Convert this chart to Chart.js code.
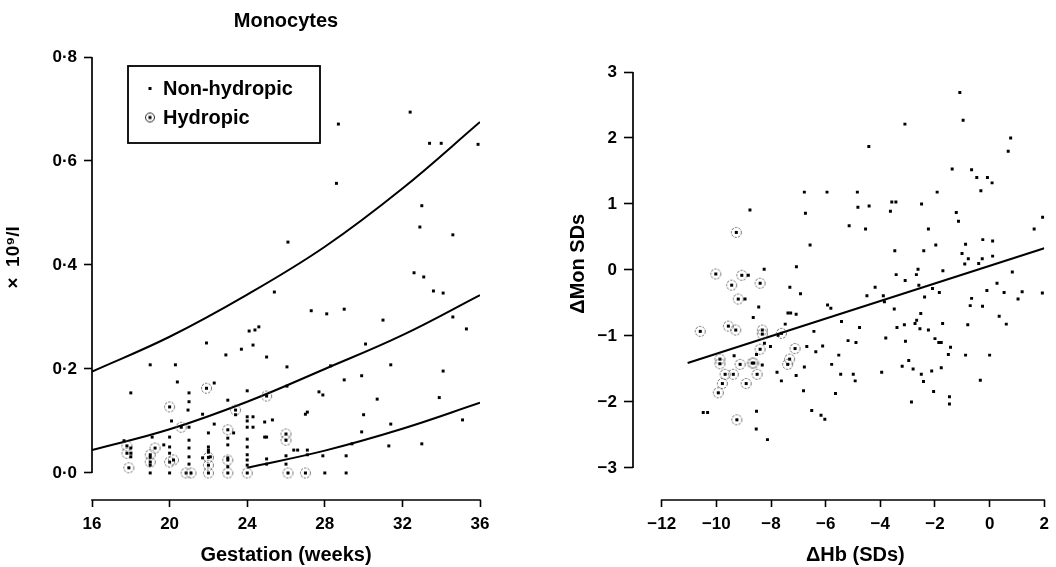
<!DOCTYPE html>
<html>
<head>
<meta charset="utf-8">
<script src="https://cdn.jsdelivr.net/npm/chart.js@4"></script>
<style>
  html, body { margin: 0; padding: 0; background: #fff; }
  #wrap { position: relative; width: 1056px; height: 567px; }
  .panel { position: absolute; top: 0; width: 528px; height: 567px; }
  #leftPanel { left: 0; }
  #rightPanel { left: 528px; }
</style>
</head>
<body>
<div id="wrap">
  <div class="panel" id="leftPanel"><canvas id="monoChart"></canvas></div>
  <div class="panel" id="rightPanel"><canvas id="deltaChart"></canvas></div>
</div>
<script>
'use strict'

/******************     DATA    ******************/

// left panel: monocytes (x 10^9/l) against gestation (weeks)
const gestTicks = [16, 20, 24, 28, 32, 36];
const monoTicks = [0, 0.2, 0.4, 0.6, 0.8];

const curveWeeks = [16, 20, 24, 28, 32, 36];
const upperCurve = [0.195, 0.262, 0.343, 0.435, 0.547, 0.675];
const middleCurve = [0.044, 0.084, 0.137, 0.200, 0.265, 0.342];
const lowerWeeks = [24, 28, 32, 36];
const lowerCurve = [0.010, 0.043, 0.085, 0.135];

const nonHydropicGest = [
  [32.4,0.694],[28.7,0.671],[33.4,0.634],[34.0,0.634],[35.9,0.632],[28.6,0.557],[33.0,0.514],
  [32.9,0.473],[34.6,0.458],[26.1,0.444],[32.6,0.385],[33.1,0.377],[33.6,0.350],[34.1,0.346],
  [25.4,0.348],[27.3,0.312],[28.1,0.306],[29.0,0.315],[31.0,0.294],[34.6,0.300],[35.3,0.277],
  [24.1,0.273],[24.4,0.275],[24.6,0.281],[24.3,0.246],[23.7,0.238],[25.0,0.223],[30.1,0.248],
  [21.9,0.250],[22.9,0.227],[26.05,0.204],[28.3,0.206],[31.4,0.208],[34.1,0.196],[19.0,0.208],
  [20.3,0.208],[20.4,0.175],[22.3,0.173],[18.0,0.154],[21.0,0.154],[24.0,0.158],[26.05,0.167],
  [29.0,0.179],[29.9,0.187],[27.7,0.156],[27.9,0.150],[30.7,0.142],[33.9,0.145],[21.0,0.137],
  [23.0,0.140],[20.95,0.121],[27.1,0.117],[27.0,0.113],[30.0,0.112],[23.4,0.112],[21.7,0.113],
  [24.0,0.108],[24.3,0.108],[24.0,0.100],[24.9,0.098],[25.3,0.102],[20.1,0.100],[24.0,0.088],
  [24.3,0.088],[31.4,0.094],[35.1,0.102],[22.3,0.094],[21.0,0.088],[29.9,0.079],[24.0,0.065],
  [24.9,0.069],[25.0,0.069],[31.3,0.052],[33.0,0.056],[29.4,0.056],[24.0,0.050],[26.4,0.044],
  [26.6,0.044],[27.1,0.044],[27.1,0.035],[24.0,0.035],[24.0,0.025],[24.0,0.015],[25.0,0.027],
  [26.0,0.033],[27.9,0.033],[29.1,0.033],[25.0,0.017],[26.0,0.017],[28.0,0.0],[29.1,0.0],
  [17.65,0.062],[19.1,0.069],[20.0,0.069],[21.0,0.063],[23.0,0.067],[22.0,0.077],[23.3,0.077],
  [20.0,0.050],[19.7,0.054],[18.0,0.048],[21.0,0.048],[22.0,0.050],[22.0,0.044],[23.0,0.054],
  [18.0,0.038],[18.0,0.031],[21.0,0.031],[21.7,0.029],[22.1,0.031],[23.0,0.029],[23.0,0.012],
  [19.0,0.0],[20.0,0.0],[19.0,0.030],[19.0,0.015],[20.0,0.038],[21.0,0.017],[22.0,0.040]
];
const hydropicGest = [
  [17.8,0.052],[17.8,0.038],[17.9,0.010],[19.0,0.035],[19.0,0.021],[19.25,0.048],[20.0,0.021],
  [20.2,0.025],[20.0,0.127],[20.6,0.088],[20.85,0.0],[21.1,0.0],[21.9,0.163],[22.0,0.030],
  [22.0,0.015],[22.0,0.0],[23.0,0.083],[23.0,0.025],[23.0,0.0],[23.4,0.121],[24.0,0.0],
  [25.0,0.148],[26.0,0.075],[26.0,0.063],[26.1,0.0],[27.0,0.0]
];

// right panel: delta monocytes against delta haemoglobin (SDs)
const hbTicks = [-12, -10, -8, -6, -4, -2, 0, 2];
const monSdTicks = [-3, -2, -1, 0, 1, 2, 3];
const fitHb = [-11.05, 2.0];
const fitMon = [-1.41, 0.33];

const nonHydropicDelta = [
  [-1.09,2.69],[-0.97,2.27],[-3.10,2.21],[-4.42,1.87],[0.77,2.0],[0.68,1.80],[-1.37,1.53],
  [-0.66,1.52],[-0.47,1.40],[-0.08,1.40],[0.09,1.32],[-0.32,1.20],[-1.92,1.18],[-6.78,1.18],
  [-5.95,1.18],[-4.84,1.18],[-4.82,0.95],[-4.41,0.97],[-3.58,1.03],[-3.43,1.03],[-3.63,0.89],
  [-2.49,1.0],[-1.22,0.87],[-1.14,0.74],[-6.74,0.86],[-8.77,0.91],[-5.14,0.67],[-4.54,0.62],
  [-2.24,0.62],[1.63,0.62],[1.94,0.80],[-6.57,0.38],[-1.97,0.38],[-0.88,0.39],[-0.25,0.46],
  [0.11,0.44],[-3.47,0.29],[-2.41,0.29],[-1.01,0.25],[-0.78,0.17],[-0.27,0.17],[0.11,0.21],
  [-0.91,0.09],[-0.40,0.10],[-2.62,0.01],[-1.71,-0.01],[0.83,-0.03],[-3.42,-0.07],[-2.68,-0.07],
  [-7.07,0.05],[-8.25,0.01],[-3.09,-0.16],[-2.59,-0.23],[-4.19,-0.26],[-7.31,-0.26],[-6.92,-0.36],
  [-4.49,-0.39],[-3.89,-0.39],[-2.09,-0.28],[-1.84,-0.34],[0.27,-0.20],[-0.10,-0.31],[0.53,-0.34],
  [1.19,-0.33],[1.93,-0.35],[-2.38,-0.41],[-0.66,-0.43],[1.04,-0.44],[-8.83,-0.08],[-8.95,-0.44],
  [-8.45,-0.56],[-7.38,-0.65],[-7.28,-0.65],[-7.08,-0.67],[-5.93,-0.53],[-5.81,-0.58],[-8.65,-0.72],
  [-5.42,-0.78],[-7.48,-0.82],[-6.43,-0.93],[-5.18,-1.07],[-8.24,-1.11],[-8.02,-1.16],[-6.69,-1.16],
  [-6.11,-1.15],[-6.36,-1.24],[-5.52,-1.29],[-9.35,-1.30],[-8.53,-1.28],[-8.32,-1.44],[-6.78,-1.47],
  [-5.78,-1.43],[-7.78,-1.55],[-7.08,-1.60],[-5.45,-1.58],[-7.62,-1.68],[-6.81,-1.83],[-5.64,-1.87],
  [-8.53,-2.14],[-10.48,-2.16],[-10.32,-2.16],[-6.51,-2.13],[-6.17,-2.20],[-6.03,-2.26],[-8.54,-2.41],
  [-8.13,-2.57],[-7.74,-0.99],
  [-0.71,-0.54],[-0.26,-0.55],[-3.85,-0.48],[-3.49,-0.59],[-2.52,-0.66],[-2.67,-0.76],[-2.73,-0.81],
  [-4.76,-0.87],[-3.39,-0.87],[-3.12,-0.83],[-2.55,-0.89],[-2.24,-0.91],[-1.72,-0.81],[-0.80,-0.83],
  [0.35,-0.70],[0.61,-0.82],[-4.89,-1.10],[-3.80,-1.03],[-3.08,-1.08],[-2.0,-1.04],[-1.86,-1.10],
  [-1.77,-1.10],[-1.43,-1.17],[-1.51,-1.28],[-0.88,-1.29],[0.0,-1.29],[-2.96,-1.37],[-3.20,-1.46],
  [-2.80,-1.50],[-1.77,-1.48],[-2.12,-1.53],[-4.99,-1.58],[-4.92,-1.68],[-3.95,-1.55],[-2.50,-1.58],
  [-2.42,-1.69],[-0.34,-1.67],[-2.05,-1.84],[-2.86,-2.0],[-1.47,-1.92],[-1.47,-2.03]
];
const hydropicDelta = [
  [-10.02,-0.06],[-9.07,-0.08],[-9.44,-0.23],[-8.40,-0.20],[-9.27,0.57],[-9.20,-0.44],[-9.56,-0.85],
  [-9.29,-0.91],[-10.59,-0.93],[-8.32,-0.91],[-8.32,-0.97],[-7.62,-0.96],[-8.40,-1.20],[-7.12,-1.19],
  [-9.87,-1.35],[-9.87,-1.42],[-9.13,-1.43],[-8.69,-1.41],[-8.63,-1.41],[-7.32,-1.35],[-7.39,-1.43],
  [-9.68,-1.58],[-9.38,-1.58],[-8.51,-1.58],[-9.78,-1.72],[-8.91,-1.72],[-9.93,-1.86],[-9.25,-2.27]
];

/******************     HELPERS    ******************/

const FONT = "'Liberation Sans', Arial, Helvetica, sans-serif";
Chart.defaults.font.family = FONT;
Chart.defaults.color = '#000';

const toXY = (pairs) => pairs.map(p => ({ x: p[0], y: p[1] }));
const zipXY = (xs, ys) => xs.map((x, i) => ({ x: x, y: ys[i] }));
const minusSign = (v) => v < 0 ? '\u2212' + Math.abs(v) : String(v);

// circled dot used for the hydropic cases
const makeHydropicMark = (r, dashed) => {
  const c = document.createElement('canvas');
  const s = Math.ceil(r * 2 + 3);
  c.width = s; c.height = s;
  const g = c.getContext('2d');
  g.strokeStyle = dashed ? '#555' : '#222';
  g.lineWidth = 1;
  if (dashed) { g.setLineDash([2.2, 1.4]); }
  g.beginPath();
  g.arc(s / 2, s / 2, r, 0, Math.PI * 2);
  g.stroke();
  g.fillStyle = '#000';
  g.fillRect(s / 2 - 1.5, s / 2 - 1.5, 3, 3);
  return c;
};
const hydropicMark = makeHydropicMark(5, true);
const hydropicLegendMark = makeHydropicMark(4.5, false);

const tickGrid = (len) => ({
  drawOnChartArea: false,
  drawTicks: true,
  tickLength: len,
  tickWidth: 1.6,
  tickColor: '#000',
  color: '#000'
});
const tickFont = { family: FONT, size: 17, weight: 'bold' };
const titleFont = { family: FONT, size: 20, weight: 'bold' };

// axis lines only run between first and last tick, like the printed figure
const axisLines = {
  id: 'axisLines',
  afterDraw(chart) {
    const { ctx, chartArea } = chart;
    const x = chart.scales.x, y = chart.scales.y;
    const xt = x.ticks, yt = y.ticks;
    ctx.save();
    ctx.strokeStyle = '#000';
    ctx.lineWidth = 1.7;
    ctx.beginPath();
    ctx.moveTo(chartArea.left, y.getPixelForValue(yt[0].value));
    ctx.lineTo(chartArea.left, y.getPixelForValue(yt[yt.length - 1].value));
    ctx.moveTo(x.getPixelForValue(xt[0].value) - 0.8, chartArea.bottom);
    ctx.lineTo(x.getPixelForValue(xt[xt.length - 1].value) + 0.8, chartArea.bottom);
    ctx.stroke();
    ctx.restore();
  }
};

// boxed key inside the plot
const boxLegend = {
  id: 'boxLegend',
  afterDatasetsDraw(chart, args, opts) {
    const { ctx } = chart;
    ctx.save();
    ctx.fillStyle = '#fff';
    ctx.fillRect(opts.left, opts.top, opts.width, opts.height);
    ctx.strokeStyle = '#000';
    ctx.lineWidth = 1.8;
    ctx.strokeRect(opts.left, opts.top, opts.width, opts.height);
    ctx.font = 'bold 20px ' + FONT;
    ctx.textBaseline = 'middle';
    ctx.fillStyle = '#000';
    const items = chart.data.datasets.filter(d => d.inKey);
    items.forEach((d, i) => {
      const cy = opts.top + opts.firstRow + i * opts.rowGap;
      const mx = opts.left + opts.markX;
      if (d.keyMark === 'dot') {
        ctx.fillRect(mx - 1.5, cy - 1.5, 3, 3);
      } else {
        ctx.drawImage(hydropicLegendMark, mx - hydropicLegendMark.width / 2, cy - hydropicLegendMark.height / 2);
      }
      ctx.fillText(d.label, opts.left + opts.textX, cy + 1);
    });
    ctx.restore();
  }
};

/******************     LEFT CHART    ******************/

const monoChart = new Chart(document.getElementById('monoChart'), {
  type: 'scatter',
  data: {
    datasets: [
      { label: 'Non-hydropic', inKey: true, keyMark: 'dot', data: toXY(nonHydropicGest),
        pointStyle: 'rect', pointRadius: 2.1, backgroundColor: '#000', borderWidth: 0 },
      { label: 'Hydropic', inKey: true, keyMark: 'ring', data: toXY(hydropicGest),
        pointStyle: hydropicMark, pointRadius: 5 },
      { label: 'upper', data: zipXY(curveWeeks, upperCurve), showLine: true, pointRadius: 0,
        borderColor: '#000', borderWidth: 2, tension: 0.4 },
      { label: 'middle', data: zipXY(curveWeeks, middleCurve), showLine: true, pointRadius: 0,
        borderColor: '#000', borderWidth: 2, tension: 0.4 },
      { label: 'lower', data: zipXY(lowerWeeks, lowerCurve), showLine: true, pointRadius: 0,
        borderColor: '#000', borderWidth: 2, tension: 0.4 }
    ]
  },
  options: {
    responsive: true,
    maintainAspectRatio: false,
    animation: false,
    events: [],
    layout: { padding: { left: 0, right: 48, top: 0, bottom: 0 } },
    plugins: {
      legend: { display: false },
      tooltip: { enabled: false },
      title: {
        display: true,
        text: 'Monocytes',
        fullSize: false,
        color: '#000',
        font: { family: FONT, size: 20, weight: 'bold' },
        padding: { top: 9, bottom: 24 }
      },
      boxLegend: { left: 128, top: 66, width: 192, height: 77, markX: 22, textX: 35, firstRow: 22.5, rowGap: 29 }
    },
    scales: {
      x: {
        type: 'linear', position: 'bottom', min: 16, max: 36,
        afterBuildTicks: (s) => { s.ticks = gestTicks.map(v => ({ value: v })); },
        afterFit: (s) => { s.height = 67; },
        grid: tickGrid(7),
        border: { display: false },
        ticks: { font: tickFont, color: '#000', padding: 7, maxRotation: 0 },
        title: { display: true, text: 'Gestation (weeks)', font: titleFont, color: '#000', padding: { top: 0, bottom: 0 } }
      },
      y: {
        type: 'linear', min: -0.052, max: 0.8,
        afterBuildTicks: (s) => { s.ticks = monoTicks.map(v => ({ value: v })); },
        afterFit: (s) => { s.width = 92; },
        grid: tickGrid(8),
        border: { display: false },
        ticks: { font: tickFont, color: '#000', padding: 7, callback: (v) => v.toFixed(1).replace('.', '\u00b7') },
        title: { display: true, text: '        \u00d7  10\u2079/l', font: { family: FONT, size: 19, weight: 'bold' }, color: '#000', padding: { top: 2, bottom: 0 } }
      }
    }
  },
  plugins: [axisLines, boxLegend]
});

/******************     RIGHT CHART    ******************/

const deltaChart = new Chart(document.getElementById('deltaChart'), {
  type: 'scatter',
  data: {
    datasets: [
      { label: 'Non-hydropic', data: toXY(nonHydropicDelta),
        pointStyle: 'rect', pointRadius: 2.1, backgroundColor: '#000', borderWidth: 0 },
      { label: 'Hydropic', data: toXY(hydropicDelta),
        pointStyle: hydropicMark, pointRadius: 5 },
      { label: 'fit', data: zipXY(fitHb, fitMon), showLine: true, pointRadius: 0,
        borderColor: '#000', borderWidth: 2 }
    ]
  },
  options: {
    responsive: true,
    maintainAspectRatio: false,
    animation: false,
    events: [],
    layout: { padding: { left: 0, right: 8, top: 72, bottom: 0 } },
    plugins: {
      legend: { display: false },
      tooltip: { enabled: false }
    },
    scales: {
      x: {
        type: 'linear', position: 'bottom', min: -13.05, max: 2,
        afterBuildTicks: (s) => { s.ticks = hbTicks.map(v => ({ value: v })); },
        afterFit: (s) => { s.height = 67; },
        grid: tickGrid(7),
        border: { display: false },
        ticks: { font: tickFont, color: '#000', padding: 7, maxRotation: 0, callback: minusSign },
        title: { display: true, text: '      \u0394Hb (SDs)', font: titleFont, color: '#000', padding: { top: 0, bottom: 0 } }
      },
      y: {
        type: 'linear', min: -3.485, max: 3,
        afterBuildTicks: (s) => { s.ticks = monSdTicks.map(v => ({ value: v })); },
        afterFit: (s) => { s.width = 105; },
        grid: tickGrid(9),
        border: { display: false },
        ticks: { font: tickFont, color: '#000', padding: 7, callback: minusSign },
        title: { display: true, text: '        \u0394Mon SDs', font: titleFont, color: '#000', padding: { top: 38, bottom: 0 } }
      }
    }
  },
  plugins: [axisLines]
});
</script>
</body>
</html>
